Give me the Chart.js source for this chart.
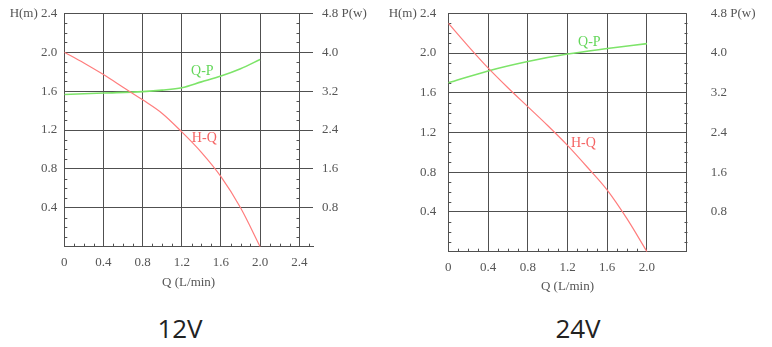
<!DOCTYPE html>
<html>
<head>
<meta charset="utf-8">
<script src="https://cdn.jsdelivr.net/npm/chart.js@4.4.1/dist/chart.umd.min.js"></script>
<style>
  body { margin: 0; background: #fff; width: 772px; height: 347px; position: relative; overflow: hidden; }
  .box { position: absolute; top: 0; height: 300px; }
  .cap { position: absolute; top: 315px; width: 100px; text-align: center;
         font: 26px/1 "Open Sans", sans-serif; color: #222; }
</style>
</head>
<body>
<div class="box" style="left:0;width:370px"><canvas id="c12" width="370" height="300"></canvas></div>
<div class="box" style="left:372px;width:400px"><canvas id="c24" width="400" height="300"></canvas></div>
<div class="cap" style="left:130px">12V</div>
<div class="cap" style="left:528px">24V</div>
<script>
// flow Q (L/min), head H (m), power P (W)
const flow = [0, 0.2, 0.4, 0.6, 0.8, 1.0, 1.2, 1.4, 1.6, 1.8, 2.0];
const head12 = [2.0, 1.89, 1.77, 1.64, 1.51, 1.37, 1.18, 0.97, 0.72, 0.40, 0.0];
const head24 = [2.30, 2.07, 1.85, 1.65, 1.46, 1.27, 1.07, 0.85, 0.62, 0.33, 0.0];

const flowP12 = [0, 0.4, 0.8, 1.0, 1.2, 1.4, 1.6, 1.8, 2.0];
const power12 = [3.13, 3.16, 3.19, 3.22, 3.27, 3.39, 3.51, 3.66, 3.85];
const flowP24 = [0, 0.4, 0.8, 1.2, 1.6, 2.0];
const power24 = [3.40, 3.64, 3.83, 3.98, 4.09, 4.19];

const flowTicks = [0, 0.4, 0.8, 1.2, 1.6, 2.0, 2.4];
const headTicks = [0, 0.4, 0.8, 1.2, 1.6, 2.0, 2.4];
const powerTicks = [0, 0.8, 1.6, 2.4, 3.2, 4.0, 4.8];

const gridColor = '#505050';
const textColor = '#555';
const redLine = 'rgb(255,125,125)';
const greenLine = 'rgb(125,228,105)';
const labelFont = { family: "'Liberation Serif', serif", size: 13 };

// small inward ticks every 0.1 on the left axis, the right edge line and the bottom axis
const minorTicks = {
    id: 'minorTicks',
    beforeDatasetsDraw(chart, args, opts) {
        const { ctx, chartArea: a, scales: { x, y } } = chart;
        ctx.save();
        ctx.strokeStyle = gridColor;
        ctx.lineWidth = 1;
        ctx.beginPath();
        const ex = Math.round(x.getPixelForValue(opts.edge)) + 0.5;
        for (let i = 1; i < 24; i++) {
            if (i % 4 === 0) continue;
            const py = Math.round(y.getPixelForValue(i / 10)) + 0.5;
            ctx.moveTo(a.left, py); ctx.lineTo(a.left + 3, py);
            ctx.moveTo(ex, py); ctx.lineTo(ex - 3, py);
        }
        for (let i = 1; i <= opts.xTo; i++) {
            if (i % 4 === 0) continue;
            const px = Math.round(x.getPixelForValue(i / 10)) + 0.5;
            ctx.moveTo(px, a.bottom); ctx.lineTo(px, a.bottom - 3);
        }
        ctx.stroke();
        ctx.restore();
    }
};

// curve names written next to the lines
const curveLabels = {
    id: 'curveLabels',
    afterDatasetsDraw(chart, args, opts) {
        const { ctx, scales: { x, y } } = chart;
        ctx.save();
        ctx.font = "14px 'Liberation Serif', serif";
        ctx.textAlign = 'center';
        ctx.textBaseline = 'middle';
        opts.items.forEach(it => {
            ctx.fillStyle = it.color;
            ctx.fillText(it.text, x.getPixelForValue(it.x), y.getPixelForValue(it.y));
        });
        ctx.restore();
    }
};

// fixed axis box sizes; label paddings are not allowed to push the plot area
function fixSize(key, size) {
    return s => {
        s[key] = size;
        s.paddingTop = s.paddingBottom = s.paddingLeft = s.paddingRight = 0;
    };
}

function makeChart(id, o) {
    const pts = (xs, ys) => xs.map((v, i) => ({ x: v, y: ys[i] }));
    return new Chart(document.getElementById(id), {
        type: 'line',
        data: {
            datasets: [{
                label: 'H-Q',
                data: pts(flow, o.head),
                yAxisID: 'y',
                borderColor: redLine,
                borderWidth: 1.2,
                pointRadius: 0,
                cubicInterpolationMode: 'monotone'
            }, {
                label: 'Q-P',
                data: pts(o.flowP, o.power),
                yAxisID: 'p',
                borderColor: greenLine,
                borderWidth: 1.6,
                pointRadius: 0,
                cubicInterpolationMode: 'monotone'
            }]
        },
        plugins: [minorTicks, curveLabels],
        options: {
            responsive: false,
            animation: false,
            layout: { padding: { left: 0, right: 0, top: 13.3, bottom: 0 } },
            plugins: {
                legend: { display: false },
                tooltip: { enabled: false },
                minorTicks: { edge: 2.4, xTo: o.minorTo },
                curveLabels: { items: o.names }
            },
            scales: {
                x: {
                    type: 'linear',
                    min: 0,
                    max: o.xMax,
                    afterBuildTicks: s => { s.ticks = flowTicks.map(v => ({ value: v })); },
                    afterFit: fixSize('height', o.bottomH),
                    grid: { color: gridColor, drawTicks: false },
                    border: { color: gridColor },
                    ticks: {
                        padding: 8,
                        maxRotation: 0,
                        color: textColor,
                        font: labelFont,
                        callback: v => (v === 0 ? '0' : (v > o.lastLabel + 0.01 ? '' : v.toFixed(1)))
                    },
                    title: {
                        display: true,
                        text: 'Q (L/min)',
                        color: textColor,
                        font: labelFont,
                        padding: { top: 0, bottom: o.titlePad }
                    }
                },
                y: {
                    position: 'left',
                    min: 0,
                    max: 2.4,
                    afterBuildTicks: s => { s.ticks = headTicks.map(v => ({ value: v })); },
                    afterFit: fixSize('width', o.leftW),
                    grid: { color: gridColor, drawTicks: false },
                    border: { color: gridColor },
                    ticks: {
                        padding: o.leftPad,
                        color: textColor,
                        font: labelFont,
                        callback: v => (v === 0 ? '' : (v === 2.4 ? 'H(m) 2.4' : v.toFixed(1)))
                    }
                },
                p: {
                    position: 'right',
                    min: 0,
                    max: 4.8,
                    afterBuildTicks: s => { s.ticks = powerTicks.map(v => ({ value: v })); },
                    afterFit: fixSize('width', o.rightW),
                    grid: { display: false, drawTicks: false },
                    border: { display: false },
                    ticks: {
                        padding: o.rightPad,
                        color: textColor,
                        font: labelFont,
                        callback: v => (v === 0 ? '' : (v === 4.8 ? '4.8 P(w)' : v.toFixed(1)))
                    }
                }
            }
        }
    });
}

makeChart('c12', {
    head: head12, flowP: flowP12, power: power12,
    xMax: 2.54, lastLabel: 2.4, minorTo: 25,
    leftW: 64.3, leftPad: 7, rightW: 57, rightPad: 9,
    bottomH: 53.3, titlePad: 10,
    names: [
        { text: 'Q-P', x: 1.41, y: 1.80, color: 'rgb(100,215,90)' },
        { text: 'H-Q', x: 1.43, y: 1.11, color: 'rgb(245,100,100)' }
    ]
});

makeChart('c24', {
    head: head24, flowP: flowP24, power: power24,
    xMax: 2.4, lastLabel: 2.0, minorTo: 20,
    leftW: 76.3, leftPad: 12, rightW: 85.3, rightPad: 24,
    bottomH: 48.3, titlePad: 6,
    names: [
        { text: 'Q-P', x: 1.42, y: 2.11, color: 'rgb(100,215,90)' },
        { text: 'H-Q', x: 1.36, y: 1.09, color: 'rgb(245,100,100)' }
    ]
});
</script>
</body>
</html>
